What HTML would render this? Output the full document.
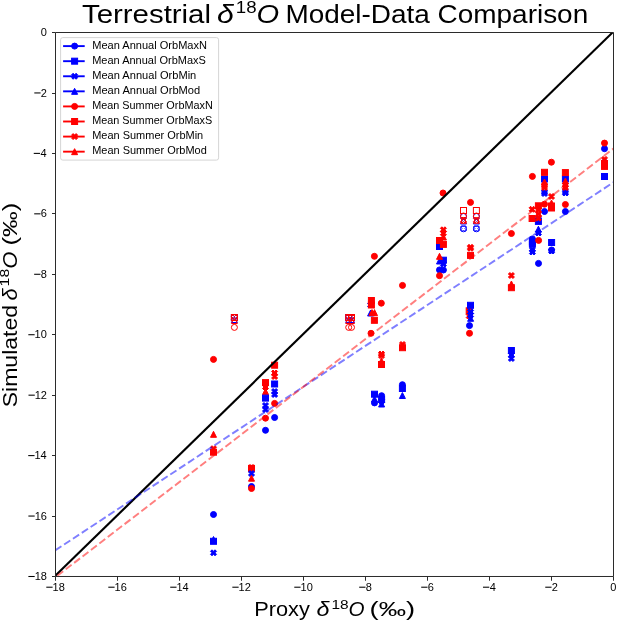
<!DOCTYPE html>
<html><head><meta charset="utf-8"><style>
html,body{margin:0;padding:0;background:#fff;}
svg{display:block;}
text{font-family:"Liberation Sans",sans-serif;fill:#000;}
.fr{fill:#f00;stroke:#f00;stroke-width:1;stroke-linejoin:miter}.fb{fill:#00f;stroke:#00f;stroke-width:1;stroke-linejoin:miter}.or{fill:none;stroke:#f00;stroke-width:1}.ob{fill:none;stroke:#00f;stroke-width:1}
</style></head><body>
<div style="will-change:transform;width:617px;height:620px;background:#fff"><svg width="617" height="620" viewBox="0 0 617 620">
<rect width="617" height="620" fill="#fff"/>

<defs><clipPath id="ax"><rect x="55.5" y="32.5" width="558.0" height="543.996"/></clipPath></defs>
<g clip-path="url(#ax)">
<circle cx="213.50" cy="359.40" r="3.00" class="fr"/>
<path d="M213.50,431.30L210.50,437.30L216.50,437.30Z" class="fr"/>
<path d="M212.00,445.70L213.50,447.20L215.00,445.70L216.50,447.20L215.00,448.70L216.50,450.20L215.00,451.70L213.50,450.20L212.00,451.70L210.50,450.20L212.00,448.70L210.50,447.20Z" class="fr"/>
<rect x="210.50" y="449.20" width="6.00" height="6.00" class="fr"/>
<circle cx="213.50" cy="514.50" r="3.00" class="fb"/>
<path d="M213.50,536.50L210.50,542.50L216.50,542.50Z" class="fb"/>
<rect x="210.50" y="538.30" width="6.00" height="6.00" class="fb"/>
<path d="M212.00,549.80L213.50,551.30L215.00,549.80L216.50,551.30L215.00,552.80L216.50,554.30L215.00,555.80L213.50,554.30L212.00,555.80L210.50,554.30L212.00,552.80L210.50,551.30Z" class="fb"/>
<path d="M232.90,315.00L234.40,316.50L235.90,315.00L237.40,316.50L235.90,318.00L237.40,319.50L235.90,321.00L234.40,319.50L232.90,321.00L231.40,319.50L232.90,318.00L231.40,316.50Z" class="ob"/>
<path d="M234.40,316.50L231.40,322.50L237.40,322.50Z" class="ob"/>
<rect x="231.40" y="314.50" width="6.00" height="6.00" class="ob"/>
<rect x="231.40" y="314.50" width="6.00" height="6.00" class="or"/>
<path d="M232.90,315.00L234.40,316.50L235.90,315.00L237.40,316.50L235.90,318.00L237.40,319.50L235.90,321.00L234.40,319.50L232.90,321.00L231.40,319.50L232.90,318.00L231.40,316.50Z" class="or"/>
<path d="M234.40,317.50L231.40,323.50L237.40,323.50Z" class="or"/>
<circle cx="234.40" cy="327.40" r="3.00" class="or"/>
<path d="M250.00,464.50L251.50,466.00L253.00,464.50L254.50,466.00L253.00,467.50L254.50,469.00L253.00,470.50L251.50,469.00L250.00,470.50L248.50,469.00L250.00,467.50L248.50,466.00Z" class="fr"/>
<rect x="248.50" y="465.40" width="6.00" height="6.00" class="fr"/>
<path d="M250.00,470.50L251.50,472.00L253.00,470.50L254.50,472.00L253.00,473.50L254.50,475.00L253.00,476.50L251.50,475.00L250.00,476.50L248.50,475.00L250.00,473.50L248.50,472.00Z" class="fb"/>
<path d="M251.50,475.20L248.50,481.20L254.50,481.20Z" class="fr"/>
<circle cx="251.50" cy="486.50" r="3.00" class="fb"/>
<circle cx="251.50" cy="488.50" r="3.00" class="fr"/>
<path d="M264.00,384.00L265.50,385.50L267.00,384.00L268.50,385.50L267.00,387.00L268.50,388.50L267.00,390.00L265.50,388.50L264.00,390.00L262.50,388.50L264.00,387.00L262.50,385.50Z" class="fr"/>
<rect x="262.50" y="379.60" width="6.00" height="6.00" class="fr"/>
<path d="M265.50,388.50L262.50,394.50L268.50,394.50Z" class="fr"/>
<rect x="262.50" y="395.10" width="6.00" height="6.00" class="fb"/>
<path d="M264.00,402.50L265.50,404.00L267.00,402.50L268.50,404.00L267.00,405.50L268.50,407.00L267.00,408.50L265.50,407.00L264.00,408.50L262.50,407.00L264.00,405.50L262.50,404.00Z" class="fb"/>
<path d="M264.00,406.50L265.50,408.00L267.00,406.50L268.50,408.00L267.00,409.50L268.50,411.00L267.00,412.50L265.50,411.00L264.00,412.50L262.50,411.00L264.00,409.50L262.50,408.00Z" class="fb"/>
<circle cx="265.50" cy="418.20" r="3.00" class="fr"/>
<circle cx="265.50" cy="430.30" r="3.00" class="fb"/>
<rect x="271.60" y="362.20" width="6.00" height="6.00" class="fr"/>
<path d="M273.10,370.00L274.60,371.50L276.10,370.00L277.60,371.50L276.10,373.00L277.60,374.50L276.10,376.00L274.60,374.50L273.10,376.00L271.60,374.50L273.10,373.00L271.60,371.50Z" class="fr"/>
<path d="M273.10,373.50L274.60,375.00L276.10,373.50L277.60,375.00L276.10,376.50L277.60,378.00L276.10,379.50L274.60,378.00L273.10,379.50L271.60,378.00L273.10,376.50L271.60,375.00Z" class="fr"/>
<rect x="271.60" y="381.00" width="6.00" height="6.00" class="fb"/>
<path d="M273.10,388.50L274.60,390.00L276.10,388.50L277.60,390.00L276.10,391.50L277.60,393.00L276.10,394.50L274.60,393.00L273.10,394.50L271.60,393.00L273.10,391.50L271.60,390.00Z" class="fb"/>
<path d="M273.10,391.50L274.60,393.00L276.10,391.50L277.60,393.00L276.10,394.50L277.60,396.00L276.10,397.50L274.60,396.00L273.10,397.50L271.60,396.00L273.10,394.50L271.60,393.00Z" class="fb"/>
<circle cx="274.60" cy="403.40" r="3.00" class="fr"/>
<circle cx="274.60" cy="417.50" r="3.00" class="fb"/>
<path d="M347.20,315.00L348.70,316.50L350.20,315.00L351.70,316.50L350.20,318.00L351.70,319.50L350.20,321.00L348.70,319.50L347.20,321.00L345.70,319.50L347.20,318.00L345.70,316.50Z" class="ob"/>
<path d="M348.70,316.50L345.70,322.50L351.70,322.50Z" class="ob"/>
<rect x="345.70" y="314.50" width="6.00" height="6.00" class="ob"/>
<rect x="345.70" y="314.50" width="6.00" height="6.00" class="or"/>
<path d="M347.20,315.00L348.70,316.50L350.20,315.00L351.70,316.50L350.20,318.00L351.70,319.50L350.20,321.00L348.70,319.50L347.20,321.00L345.70,319.50L347.20,318.00L345.70,316.50Z" class="or"/>
<path d="M348.70,317.50L345.70,323.50L351.70,323.50Z" class="or"/>
<circle cx="348.70" cy="327.40" r="3.00" class="or"/>
<path d="M350.00,315.00L351.50,316.50L353.00,315.00L354.50,316.50L353.00,318.00L354.50,319.50L353.00,321.00L351.50,319.50L350.00,321.00L348.50,319.50L350.00,318.00L348.50,316.50Z" class="ob"/>
<path d="M351.50,316.50L348.50,322.50L354.50,322.50Z" class="ob"/>
<rect x="348.50" y="314.50" width="6.00" height="6.00" class="ob"/>
<rect x="348.50" y="314.50" width="6.00" height="6.00" class="or"/>
<path d="M350.00,315.00L351.50,316.50L353.00,315.00L354.50,316.50L353.00,318.00L354.50,319.50L353.00,321.00L351.50,319.50L350.00,321.00L348.50,319.50L350.00,318.00L348.50,316.50Z" class="or"/>
<path d="M351.50,317.50L348.50,323.50L354.50,323.50Z" class="or"/>
<circle cx="351.50" cy="327.40" r="3.00" class="or"/>
<circle cx="374.40" cy="256.30" r="3.00" class="fr"/>
<path d="M369.10,302.00L370.60,303.50L372.10,302.00L373.60,303.50L372.10,305.00L373.60,306.50L372.10,308.00L370.60,306.50L369.10,308.00L367.60,306.50L369.10,305.00L367.60,303.50Z" class="fb"/>
<path d="M370.60,310.00L367.60,316.00L373.60,316.00Z" class="fb"/>
<rect x="368.40" y="297.50" width="6.00" height="6.00" class="fr"/>
<rect x="368.40" y="302.00" width="6.00" height="6.00" class="fr"/>
<path d="M372.00,309.60L369.00,315.60L375.00,315.60Z" class="fr"/>
<path d="M374.50,309.60L371.50,315.60L377.50,315.60Z" class="fr"/>
<rect x="371.40" y="317.30" width="6.00" height="6.00" class="fr"/>
<circle cx="381.30" cy="303.20" r="3.00" class="fr"/>
<circle cx="371.00" cy="333.30" r="3.00" class="fr"/>
<path d="M380.00,351.00L381.50,352.50L383.00,351.00L384.50,352.50L383.00,354.00L384.50,355.50L383.00,357.00L381.50,355.50L380.00,357.00L378.50,355.50L380.00,354.00L378.50,352.50Z" class="fr"/>
<path d="M380.00,352.60L381.50,354.10L383.00,352.60L384.50,354.10L383.00,355.60L384.50,357.10L383.00,358.60L381.50,357.10L380.00,358.60L378.50,357.10L380.00,355.60L378.50,354.10Z" class="fr"/>
<path d="M381.50,358.00L378.50,364.00L384.50,364.00Z" class="fr"/>
<rect x="378.50" y="361.50" width="6.00" height="6.00" class="fr"/>
<circle cx="402.50" cy="285.40" r="3.00" class="fr"/>
<path d="M401.00,341.50L402.50,343.00L404.00,341.50L405.50,343.00L404.00,344.50L405.50,346.00L404.00,347.50L402.50,346.00L401.00,347.50L399.50,346.00L401.00,344.50L399.50,343.00Z" class="fr"/>
<rect x="399.50" y="344.70" width="6.00" height="6.00" class="fr"/>
<path d="M402.40,392.50L399.40,398.50L405.40,398.50Z" class="fb"/>
<rect x="399.40" y="385.50" width="6.00" height="6.00" class="fb"/>
<circle cx="402.40" cy="384.70" r="3.00" class="fb"/>
<path d="M374.50,396.00L371.50,402.00L377.50,402.00Z" class="fb"/>
<rect x="371.50" y="391.20" width="6.00" height="6.00" class="fb"/>
<circle cx="374.50" cy="402.90" r="3.00" class="fb"/>
<path d="M381.60,401.00L378.60,407.00L384.60,407.00Z" class="fb"/>
<path d="M380.10,398.00L381.60,399.50L383.10,398.00L384.60,399.50L383.10,401.00L384.60,402.50L383.10,404.00L381.60,402.50L380.10,404.00L378.60,402.50L380.10,401.00L378.60,399.50Z" class="fb"/>
<rect x="378.60" y="396.50" width="6.00" height="6.00" class="fb"/>
<circle cx="381.60" cy="395.70" r="3.00" class="fb"/>
<circle cx="443.00" cy="193.00" r="3.00" class="fr"/>
<path d="M441.90,226.80L443.40,228.30L444.90,226.80L446.40,228.30L444.90,229.80L446.40,231.30L444.90,232.80L443.40,231.30L441.90,232.80L440.40,231.30L441.90,229.80L440.40,228.30Z" class="fr"/>
<path d="M441.90,230.20L443.40,231.70L444.90,230.20L446.40,231.70L444.90,233.20L446.40,234.70L444.90,236.20L443.40,234.70L441.90,236.20L440.40,234.70L441.90,233.20L440.40,231.70Z" class="fr"/>
<path d="M443.40,234.00L440.40,240.00L446.40,240.00Z" class="fr"/>
<rect x="436.50" y="243.50" width="6.00" height="6.00" class="fb"/>
<rect x="436.50" y="237.50" width="6.00" height="6.00" class="fr"/>
<rect x="440.40" y="241.40" width="6.00" height="6.00" class="fr"/>
<path d="M439.50,258.00L436.50,264.00L442.50,264.00Z" class="fb"/>
<rect x="440.40" y="257.20" width="6.00" height="6.00" class="fb"/>
<path d="M441.90,261.00L443.40,262.50L444.90,261.00L446.40,262.50L444.90,264.00L446.40,265.50L444.90,267.00L443.40,265.50L441.90,267.00L440.40,265.50L441.90,264.00L440.40,262.50Z" class="fb"/>
<path d="M439.50,253.30L436.50,259.30L442.50,259.30Z" class="fr"/>
<circle cx="443.40" cy="270.00" r="3.00" class="fb"/>
<circle cx="439.50" cy="269.90" r="3.00" class="fb"/>
<circle cx="439.50" cy="275.70" r="3.00" class="fr"/>
<circle cx="463.50" cy="228.80" r="3.00" class="ob"/>
<path d="M462.00,225.50L463.50,227.00L465.00,225.50L466.50,227.00L465.00,228.50L466.50,230.00L465.00,231.50L463.50,230.00L462.00,231.50L460.50,230.00L462.00,228.50L460.50,227.00Z" class="ob"/>
<path d="M463.50,218.00L460.50,224.00L466.50,224.00Z" class="ob"/>
<circle cx="463.50" cy="216.50" r="3.00" class="ob"/>
<rect x="460.50" y="207.50" width="6.00" height="6.00" class="or"/>
<circle cx="463.50" cy="216.00" r="3.00" class="or"/>
<path d="M462.00,217.00L463.50,218.50L465.00,217.00L466.50,218.50L465.00,220.00L466.50,221.50L465.00,223.00L463.50,221.50L462.00,223.00L460.50,221.50L462.00,220.00L460.50,218.50Z" class="or"/>
<path d="M463.50,217.30L460.50,223.30L466.50,223.30Z" class="or"/>
<circle cx="476.40" cy="228.80" r="3.00" class="ob"/>
<path d="M474.90,225.50L476.40,227.00L477.90,225.50L479.40,227.00L477.90,228.50L479.40,230.00L477.90,231.50L476.40,230.00L474.90,231.50L473.40,230.00L474.90,228.50L473.40,227.00Z" class="ob"/>
<path d="M476.40,218.00L473.40,224.00L479.40,224.00Z" class="ob"/>
<circle cx="476.40" cy="216.50" r="3.00" class="ob"/>
<rect x="473.40" y="207.50" width="6.00" height="6.00" class="or"/>
<circle cx="476.40" cy="216.00" r="3.00" class="or"/>
<path d="M474.90,217.00L476.40,218.50L477.90,217.00L479.40,218.50L477.90,220.00L479.40,221.50L477.90,223.00L476.40,221.50L474.90,223.00L473.40,221.50L474.90,220.00L473.40,218.50Z" class="or"/>
<path d="M476.40,217.30L473.40,223.30L479.40,223.30Z" class="or"/>
<circle cx="470.50" cy="202.40" r="3.00" class="fr"/>
<path d="M469.00,244.30L470.50,245.80L472.00,244.30L473.50,245.80L472.00,247.30L473.50,248.80L472.00,250.30L470.50,248.80L469.00,250.30L467.50,248.80L469.00,247.30L467.50,245.80Z" class="fr"/>
<path d="M469.00,245.30L470.50,246.80L472.00,245.30L473.50,246.80L472.00,248.30L473.50,249.80L472.00,251.30L470.50,249.80L469.00,251.30L467.50,249.80L469.00,248.30L467.50,246.80Z" class="fr"/>
<rect x="467.50" y="252.40" width="6.00" height="6.00" class="fr"/>
<rect x="466.20" y="307.80" width="6.00" height="6.00" class="fr"/>
<path d="M467.70,313.00L469.20,314.50L470.70,313.00L472.20,314.50L470.70,316.00L472.20,317.50L470.70,319.00L469.20,317.50L467.70,319.00L466.20,317.50L467.70,316.00L466.20,314.50Z" class="fr"/>
<path d="M469.10,309.00L470.60,310.50L472.10,309.00L473.60,310.50L472.10,312.00L473.60,313.50L472.10,315.00L470.60,313.50L469.10,315.00L467.60,313.50L469.10,312.00L467.60,310.50Z" class="fb"/>
<path d="M469.10,312.00L470.60,313.50L472.10,312.00L473.60,313.50L472.10,315.00L473.60,316.50L472.10,318.00L470.60,316.50L469.10,318.00L467.60,316.50L469.10,315.00L467.60,313.50Z" class="fb"/>
<path d="M470.60,315.30L467.60,321.30L473.60,321.30Z" class="fb"/>
<rect x="467.50" y="302.30" width="6.00" height="6.00" class="fb"/>
<circle cx="469.50" cy="325.60" r="3.00" class="fb"/>
<circle cx="469.50" cy="333.30" r="3.00" class="fr"/>
<circle cx="511.40" cy="233.50" r="3.00" class="fr"/>
<path d="M509.90,272.50L511.40,274.00L512.90,272.50L514.40,274.00L512.90,275.50L514.40,277.00L512.90,278.50L511.40,277.00L509.90,278.50L508.40,277.00L509.90,275.50L508.40,274.00Z" class="fr"/>
<path d="M511.40,281.00L508.40,287.00L514.40,287.00Z" class="fr"/>
<rect x="508.40" y="284.70" width="6.00" height="6.00" class="fr"/>
<rect x="508.40" y="347.50" width="6.00" height="6.00" class="fb"/>
<path d="M509.90,352.00L511.40,353.50L512.90,352.00L514.40,353.50L512.90,355.00L514.40,356.50L512.90,358.00L511.40,356.50L509.90,358.00L508.40,356.50L509.90,355.00L508.40,353.50Z" class="fb"/>
<path d="M509.90,355.50L511.40,357.00L512.90,355.50L514.40,357.00L512.90,358.50L514.40,360.00L512.90,361.50L511.40,360.00L509.90,361.50L508.40,360.00L509.90,358.50L508.40,357.00Z" class="fb"/>
<circle cx="532.40" cy="176.40" r="3.00" class="fr"/>
<rect x="541.50" y="176.00" width="6.00" height="6.00" class="fb"/>
<rect x="541.50" y="169.30" width="6.00" height="6.00" class="fr"/>
<path d="M543.00,189.00L544.50,190.50L546.00,189.00L547.50,190.50L546.00,192.00L547.50,193.50L546.00,195.00L544.50,193.50L543.00,195.00L541.50,193.50L543.00,192.00L541.50,190.50Z" class="fb"/>
<path d="M543.00,190.50L544.50,192.00L546.00,190.50L547.50,192.00L546.00,193.50L547.50,195.00L546.00,196.50L544.50,195.00L543.00,196.50L541.50,195.00L543.00,193.50L541.50,192.00Z" class="fb"/>
<path d="M544.50,179.00L541.50,185.00L547.50,185.00Z" class="fr"/>
<path d="M543.00,182.50L544.50,184.00L546.00,182.50L547.50,184.00L546.00,185.50L547.50,187.00L546.00,188.50L544.50,187.00L543.00,188.50L541.50,187.00L543.00,185.50L541.50,184.00Z" class="fr"/>
<path d="M543.00,184.50L544.50,186.00L546.00,184.50L547.50,186.00L546.00,187.50L547.50,189.00L546.00,190.50L544.50,189.00L543.00,190.50L541.50,189.00L543.00,187.50L541.50,186.00Z" class="fr"/>
<path d="M550.00,193.50L551.50,195.00L553.00,193.50L554.50,195.00L553.00,196.50L554.50,198.00L553.00,199.50L551.50,198.00L550.00,199.50L548.50,198.00L550.00,196.50L548.50,195.00Z" class="fr"/>
<path d="M551.50,200.00L548.50,206.00L554.50,206.00Z" class="fr"/>
<rect x="548.50" y="203.00" width="6.00" height="6.00" class="fr"/>
<rect x="548.50" y="205.00" width="6.00" height="6.00" class="fr"/>
<circle cx="544.50" cy="204.20" r="3.00" class="fr"/>
<circle cx="544.50" cy="211.50" r="3.00" class="fb"/>
<rect x="535.40" y="218.40" width="6.00" height="6.00" class="fb"/>
<path d="M538.40,226.20L535.40,232.20L541.40,232.20Z" class="fb"/>
<path d="M536.90,230.00L538.40,231.50L539.90,230.00L541.40,231.50L539.90,233.00L541.40,234.50L539.90,236.00L538.40,234.50L536.90,236.00L535.40,234.50L536.90,233.00L535.40,231.50Z" class="fb"/>
<path d="M536.90,215.50L538.40,217.00L539.90,215.50L541.40,217.00L539.90,218.50L541.40,220.00L539.90,221.50L538.40,220.00L536.90,221.50L535.40,220.00L536.90,218.50L535.40,217.00Z" class="fb"/>
<rect x="535.40" y="202.80" width="6.00" height="6.00" class="fr"/>
<path d="M536.90,207.00L538.40,208.50L539.90,207.00L541.40,208.50L539.90,210.00L541.40,211.50L539.90,213.00L538.40,211.50L536.90,213.00L535.40,211.50L536.90,210.00L535.40,208.50Z" class="fr"/>
<path d="M536.90,211.00L538.40,212.50L539.90,211.00L541.40,212.50L539.90,214.00L541.40,215.50L539.90,217.00L538.40,215.50L536.90,217.00L535.40,215.50L536.90,214.00L535.40,212.50Z" class="fr"/>
<path d="M536.90,215.20L538.40,216.70L539.90,215.20L541.40,216.70L539.90,218.20L541.40,219.70L539.90,221.20L538.40,219.70L536.90,221.20L535.40,219.70L536.90,218.20L535.40,216.70Z" class="fr"/>
<path d="M530.60,206.30L532.10,207.80L533.60,206.30L535.10,207.80L533.60,209.30L535.10,210.80L533.60,212.30L532.10,210.80L530.60,212.30L529.10,210.80L530.60,209.30L529.10,207.80Z" class="fr"/>
<rect x="529.10" y="215.50" width="6.00" height="6.00" class="fr"/>
<circle cx="532.40" cy="238.90" r="3.00" class="fb"/>
<rect x="529.40" y="239.00" width="6.00" height="6.00" class="fb"/>
<rect x="529.40" y="241.00" width="6.00" height="6.00" class="fb"/>
<path d="M530.90,246.50L532.40,248.00L533.90,246.50L535.40,248.00L533.90,249.50L535.40,251.00L533.90,252.50L532.40,251.00L530.90,252.50L529.40,251.00L530.90,249.50L529.40,248.00Z" class="fb"/>
<path d="M530.90,249.00L532.40,250.50L533.90,249.00L535.40,250.50L533.90,252.00L535.40,253.50L533.90,255.00L532.40,253.50L530.90,255.00L529.40,253.50L530.90,252.00L529.40,250.50Z" class="fb"/>
<circle cx="538.60" cy="240.40" r="3.00" class="fr"/>
<rect x="548.60" y="239.50" width="6.00" height="6.00" class="fb"/>
<circle cx="551.60" cy="250.00" r="3.00" class="fb"/>
<path d="M550.10,248.00L551.60,249.50L553.10,248.00L554.60,249.50L553.10,251.00L554.60,252.50L553.10,254.00L551.60,252.50L550.10,254.00L548.60,252.50L550.10,251.00L548.60,249.50Z" class="fb"/>
<circle cx="538.50" cy="263.40" r="3.00" class="fb"/>
<circle cx="551.40" cy="162.20" r="3.00" class="fr"/>
<rect x="562.40" y="176.00" width="6.00" height="6.00" class="fb"/>
<rect x="562.40" y="169.60" width="6.00" height="6.00" class="fr"/>
<path d="M563.90,188.50L565.40,190.00L566.90,188.50L568.40,190.00L566.90,191.50L568.40,193.00L566.90,194.50L565.40,193.00L563.90,194.50L562.40,193.00L563.90,191.50L562.40,190.00Z" class="fb"/>
<path d="M563.90,190.00L565.40,191.50L566.90,190.00L568.40,191.50L566.90,193.00L568.40,194.50L566.90,196.00L565.40,194.50L563.90,196.00L562.40,194.50L563.90,193.00L562.40,191.50Z" class="fb"/>
<path d="M565.40,178.00L562.40,184.00L568.40,184.00Z" class="fr"/>
<path d="M563.90,182.00L565.40,183.50L566.90,182.00L568.40,183.50L566.90,185.00L568.40,186.50L566.90,188.00L565.40,186.50L563.90,188.00L562.40,186.50L563.90,185.00L562.40,183.50Z" class="fr"/>
<path d="M563.90,184.50L565.40,186.00L566.90,184.50L568.40,186.00L566.90,187.50L568.40,189.00L566.90,190.50L565.40,189.00L563.90,190.50L562.40,189.00L563.90,187.50L562.40,186.00Z" class="fr"/>
<circle cx="565.40" cy="204.50" r="3.00" class="fr"/>
<circle cx="565.40" cy="211.50" r="3.00" class="fb"/>
<circle cx="604.50" cy="148.70" r="3.00" class="fb"/>
<circle cx="604.50" cy="143.10" r="3.00" class="fr"/>
<rect x="601.50" y="173.50" width="6.00" height="6.00" class="fb"/>
<path d="M603.00,159.50L604.50,161.00L606.00,159.50L607.50,161.00L606.00,162.50L607.50,164.00L606.00,165.50L604.50,164.00L603.00,165.50L601.50,164.00L603.00,162.50L601.50,161.00Z" class="fb"/>
<path d="M604.50,158.00L601.50,164.00L607.50,164.00Z" class="fr"/>
<rect x="601.50" y="160.60" width="6.00" height="6.00" class="fr"/>
<rect x="601.50" y="163.40" width="6.00" height="6.00" class="fr"/>
<path d="M603.00,156.40L604.50,157.90L606.00,156.40L607.50,157.90L606.00,159.40L607.50,160.90L606.00,162.40L604.50,160.90L603.00,162.40L601.50,160.90L603.00,159.40L601.50,157.90Z" class="fr"/>
<line x1="55.5" y1="575.6" x2="613.5" y2="31.6" stroke="#000" stroke-width="2.15"/>
<line x1="55.5" y1="550.2" x2="613.5" y2="182.3" stroke="#0000ff" stroke-opacity="0.5" stroke-width="1.95" stroke-dasharray="7.4 3.2" stroke-dashoffset="0.3"/>
<line x1="55.5" y1="577.2" x2="613.5" y2="148.6" stroke="#ff0000" stroke-opacity="0.5" stroke-width="1.95" stroke-dasharray="7.4 3.2" stroke-dashoffset="-2.3"/>
</g>
<path d="M55.5,32.5H613.5V576.496H55.5Z" fill="none" stroke="#2b2b2b" stroke-width="1.0"/>
<line x1="55.5" y1="576.496" x2="55.5" y2="580.746" stroke="#2b2b2b" stroke-width="1.0"/>
<line x1="55.5" y1="576.5" x2="52.0" y2="576.5" stroke="#2b2b2b" stroke-width="1.0"/>
<text x="34.63" y="580.10" font-size="11">18</text>
<rect x="28.38" y="575.97" width="6.3" height="1.05" fill="#000"/>
<text x="52.54" y="590.80" font-size="11">18</text>
<rect x="46.29" y="586.68" width="6.3" height="1.05" fill="#000"/>
<line x1="117.5" y1="576.496" x2="117.5" y2="580.746" stroke="#2b2b2b" stroke-width="1.0"/>
<line x1="55.5" y1="516.5" x2="52.0" y2="516.5" stroke="#2b2b2b" stroke-width="1.0"/>
<text x="34.63" y="519.65" font-size="11">16</text>
<rect x="28.38" y="515.53" width="6.3" height="1.05" fill="#000"/>
<text x="114.54" y="590.80" font-size="11">16</text>
<rect x="108.29" y="586.68" width="6.3" height="1.05" fill="#000"/>
<line x1="179.5" y1="576.496" x2="179.5" y2="580.746" stroke="#2b2b2b" stroke-width="1.0"/>
<line x1="55.5" y1="455.5" x2="52.0" y2="455.5" stroke="#2b2b2b" stroke-width="1.0"/>
<text x="34.48" y="459.21" font-size="11">14</text>
<rect x="28.23" y="455.08" width="6.3" height="1.05" fill="#000"/>
<text x="176.47" y="590.80" font-size="11">14</text>
<rect x="170.22" y="586.68" width="6.3" height="1.05" fill="#000"/>
<line x1="241.5" y1="576.496" x2="241.5" y2="580.746" stroke="#2b2b2b" stroke-width="1.0"/>
<line x1="55.5" y1="395.5" x2="52.0" y2="395.5" stroke="#2b2b2b" stroke-width="1.0"/>
<text x="34.73" y="398.76" font-size="11">12</text>
<rect x="28.48" y="394.64" width="6.3" height="1.05" fill="#000"/>
<text x="238.59" y="590.80" font-size="11">12</text>
<rect x="232.34" y="586.68" width="6.3" height="1.05" fill="#000"/>
<line x1="303.5" y1="576.496" x2="303.5" y2="580.746" stroke="#2b2b2b" stroke-width="1.0"/>
<line x1="55.5" y1="334.5" x2="52.0" y2="334.5" stroke="#2b2b2b" stroke-width="1.0"/>
<text x="34.58" y="338.32" font-size="11">10</text>
<rect x="28.33" y="334.20" width="6.3" height="1.05" fill="#000"/>
<text x="300.52" y="590.80" font-size="11">10</text>
<rect x="294.27" y="586.68" width="6.3" height="1.05" fill="#000"/>
<line x1="365.5" y1="576.496" x2="365.5" y2="580.746" stroke="#2b2b2b" stroke-width="1.0"/>
<line x1="55.5" y1="274.5" x2="52.0" y2="274.5" stroke="#2b2b2b" stroke-width="1.0"/>
<text x="40.75" y="277.88" font-size="11">8</text>
<rect x="34.15" y="273.75" width="6.3" height="1.05" fill="#000"/>
<text x="365.78" y="590.80" font-size="11">8</text>
<rect x="359.18" y="586.68" width="6.3" height="1.05" fill="#000"/>
<line x1="427.5" y1="576.496" x2="427.5" y2="580.746" stroke="#2b2b2b" stroke-width="1.0"/>
<line x1="55.5" y1="213.5" x2="52.0" y2="213.5" stroke="#2b2b2b" stroke-width="1.0"/>
<text x="40.75" y="217.43" font-size="11">6</text>
<rect x="34.20" y="213.31" width="6.3" height="1.05" fill="#000"/>
<text x="427.75" y="590.80" font-size="11">6</text>
<rect x="421.20" y="586.68" width="6.3" height="1.05" fill="#000"/>
<line x1="489.5" y1="576.496" x2="489.5" y2="580.746" stroke="#2b2b2b" stroke-width="1.0"/>
<line x1="55.5" y1="153.5" x2="52.0" y2="153.5" stroke="#2b2b2b" stroke-width="1.0"/>
<text x="40.60" y="156.99" font-size="11">4</text>
<rect x="33.75" y="152.86" width="6.3" height="1.05" fill="#000"/>
<text x="489.83" y="590.80" font-size="11">4</text>
<rect x="482.98" y="586.68" width="6.3" height="1.05" fill="#000"/>
<line x1="551.5" y1="576.496" x2="551.5" y2="580.746" stroke="#2b2b2b" stroke-width="1.0"/>
<line x1="55.5" y1="93.5" x2="52.0" y2="93.5" stroke="#2b2b2b" stroke-width="1.0"/>
<text x="40.85" y="96.54" font-size="11">2</text>
<rect x="34.30" y="92.42" width="6.3" height="1.05" fill="#000"/>
<text x="551.80" y="590.80" font-size="11">2</text>
<rect x="545.25" y="586.68" width="6.3" height="1.05" fill="#000"/>
<line x1="613.5" y1="576.496" x2="613.5" y2="580.746" stroke="#2b2b2b" stroke-width="1.0"/>
<line x1="55.5" y1="32.5" x2="52.0" y2="32.5" stroke="#2b2b2b" stroke-width="1.0"/>
<text x="40.70" y="36.10" font-size="11">0</text>
<text x="610.22" y="590.80" font-size="11">0</text>
<text x="82.0" y="22.9" font-size="25.4" textLength="129.0" lengthAdjust="spacingAndGlyphs">Terrestrial</text>
<text x="217.0" y="22.9" font-size="25.4" textLength="16.8" lengthAdjust="spacingAndGlyphs" font-style="italic">δ</text>
<text x="235.8" y="12.8" font-size="17.2" textLength="20.8" lengthAdjust="spacingAndGlyphs">18</text>
<text x="256.4" y="22.9" font-size="25.4" textLength="22.6" lengthAdjust="spacingAndGlyphs" font-style="italic">O</text>
<text x="285.4" y="22.9" font-size="25.4" textLength="302.8" lengthAdjust="spacingAndGlyphs">Model-Data Comparison</text>
<text x="254.2" y="615.8" font-size="19.8" textLength="55.6" lengthAdjust="spacingAndGlyphs">Proxy</text>
<text x="316.6" y="615.8" font-size="19.8" textLength="13.0" lengthAdjust="spacingAndGlyphs" font-style="italic">δ</text>
<text x="331.4" y="608.6" font-size="13.0" textLength="17.2" lengthAdjust="spacingAndGlyphs">18</text>
<text x="348.4" y="615.8" font-size="19.8" textLength="16.0" lengthAdjust="spacingAndGlyphs" font-style="italic">O</text>
<text x="369.6" y="615.8" font-size="19.8" textLength="45.6" lengthAdjust="spacingAndGlyphs">(‰)</text>
<g transform="rotate(-90)"><text x="-407.3" y="17.2" font-size="19.8" textLength="102.4" lengthAdjust="spacingAndGlyphs">Simulated</text><text x="-300.4" y="17.2" font-size="19.8" textLength="12.2" lengthAdjust="spacingAndGlyphs" font-style="italic">δ</text><text x="-286.4" y="9.399999999999999" font-size="13.0" textLength="17.6" lengthAdjust="spacingAndGlyphs">18</text><text x="-268.8" y="17.2" font-size="19.8" textLength="17.2" lengthAdjust="spacingAndGlyphs" font-style="italic">O</text><text x="-245.6" y="17.2" font-size="19.8" textLength="42.8" lengthAdjust="spacingAndGlyphs">(‰)</text></g>
<rect x="60.6" y="37.6" width="158.0" height="122.5" rx="2.2" fill="#fff" fill-opacity="0.8" stroke="#d6d6d6" stroke-width="1.0"/>
<line x1="63.1" y1="46.10" x2="84.7" y2="46.10" stroke="#0000ff" stroke-width="1.9"/>
<circle cx="74.60" cy="46.10" r="3.00" class="fb"/>
<text x="92.2" y="48.80" font-size="10.6" textLength="114.8" lengthAdjust="spacingAndGlyphs">Mean Annual OrbMaxN</text>
<line x1="63.1" y1="61.18" x2="84.7" y2="61.18" stroke="#0000ff" stroke-width="1.9"/>
<rect x="71.60" y="58.18" width="6.00" height="6.00" class="fb"/>
<text x="92.2" y="63.88" font-size="10.6" textLength="113.7" lengthAdjust="spacingAndGlyphs">Mean Annual OrbMaxS</text>
<line x1="63.1" y1="76.26" x2="84.7" y2="76.26" stroke="#0000ff" stroke-width="1.9"/>
<path d="M73.10,73.26L74.60,74.76L76.10,73.26L77.60,74.76L76.10,76.26L77.60,77.76L76.10,79.26L74.60,77.76L73.10,79.26L71.60,77.76L73.10,76.26L71.60,74.76Z" class="fb"/>
<text x="92.2" y="78.96" font-size="10.6" textLength="104.1" lengthAdjust="spacingAndGlyphs">Mean Annual OrbMin</text>
<line x1="63.1" y1="91.34" x2="84.7" y2="91.34" stroke="#0000ff" stroke-width="1.9"/>
<path d="M74.60,88.34L71.60,94.34L77.60,94.34Z" class="fb"/>
<text x="92.2" y="94.04" font-size="10.6" textLength="108.0" lengthAdjust="spacingAndGlyphs">Mean Annual OrbMod</text>
<line x1="63.1" y1="106.42" x2="84.7" y2="106.42" stroke="#ff0000" stroke-width="1.9"/>
<circle cx="74.60" cy="106.42" r="3.00" class="fr"/>
<text x="92.2" y="109.12" font-size="10.6" textLength="120.6" lengthAdjust="spacingAndGlyphs">Mean Summer OrbMaxN</text>
<line x1="63.1" y1="121.50" x2="84.7" y2="121.50" stroke="#ff0000" stroke-width="1.9"/>
<rect x="71.60" y="118.50" width="6.00" height="6.00" class="fr"/>
<text x="92.2" y="124.20" font-size="10.6" textLength="120.0" lengthAdjust="spacingAndGlyphs">Mean Summer OrbMaxS</text>
<line x1="63.1" y1="136.58" x2="84.7" y2="136.58" stroke="#ff0000" stroke-width="1.9"/>
<path d="M73.10,133.58L74.60,135.08L76.10,133.58L77.60,135.08L76.10,136.58L77.60,138.08L76.10,139.58L74.60,138.08L73.10,139.58L71.60,138.08L73.10,136.58L71.60,135.08Z" class="fr"/>
<text x="92.2" y="139.28" font-size="10.6" textLength="111.0" lengthAdjust="spacingAndGlyphs">Mean Summer OrbMin</text>
<line x1="63.1" y1="151.66" x2="84.7" y2="151.66" stroke="#ff0000" stroke-width="1.9"/>
<path d="M74.60,148.66L71.60,154.66L77.60,154.66Z" class="fr"/>
<text x="92.2" y="154.36" font-size="10.6" textLength="114.6" lengthAdjust="spacingAndGlyphs">Mean Summer OrbMod</text>
</svg></div></body></html>
